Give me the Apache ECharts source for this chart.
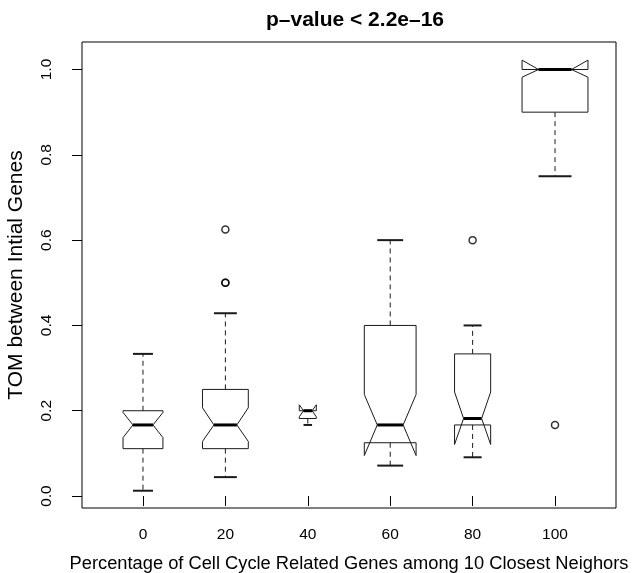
<!DOCTYPE html>
<html>
<head>
<meta charset="utf-8">
<script src="https://cdn.jsdelivr.net/npm/echarts@6/dist/echarts.min.js"></script>
<style>
  html, body { margin: 0; padding: 0; background: #fff; }
  #chart { width: 644px; height: 573px; }
</style>
</head>
<body>
<div id="chart"></div>
<script>
// groups (percentage of cell cycle genes among 10 closest neighbours)
var categories = ['0', '20', '40', '60', '80', '100'];

// five-number summaries
var lowerWhisker = [0.0125, 0.0444, 0.1667, 0.0714, 0.0909, 0.75];
var lowerHinge   = [0.1111, 0.1111, 0.1818, 0.125, 0.1667, 0.9];
var medians      = [0.1667, 0.1667, 0.2, 0.1667, 0.1818, 1.0];
var upperHinge   = [0.2, 0.25, 0.2, 0.4, 0.3333, 1.0];
var upperWhisker = [0.3333, 0.4286, 0.2, 0.6, 0.4, 1.0];

// notch limits
var notchLow  = [0.137, 0.128, 0.186, 0.095, 0.121, 0.982];
var notchHigh = [0.196, 0.207, 0.214, 0.238, 0.244, 1.022];

// group sizes (box widths are proportional to sqrt(n))
var groupN = [22, 29, 4, 37, 18, 60];

// outliers: group index + value
var outlierGroup = [1, 1, 1, 4, 5];
var outlierValue = [0.5, 0.5, 0.625, 0.6, 0.1667];

var yTicks = [0, 0.2, 0.4, 0.6, 0.8, 1.0];
var xTicks = [1, 2, 3, 4, 5, 6];

var maxN = Math.max.apply(null, groupN);
var boxData = categories.map(function (c, i) {
    return [i + 1, lowerWhisker[i], lowerHinge[i], notchLow[i], medians[i],
        notchHigh[i], upperHinge[i], upperWhisker[i], groupN[i]];
});
var outData = outlierGroup.map(function (g, i) {
    return [g + 1, outlierValue[i]];
});

var FONT = '"Liberation Sans", Arial, Helvetica, sans-serif';

function renderBox(params, api) {
    var x = api.value(0);
    var unit = api.size([1, 0])[0];
    var w = 0.4 * Math.sqrt(api.value(8) / maxN) * unit;   // half width in px
    var cx = api.coord([x, 0])[0];
    function py(k) { return api.coord([x, api.value(k)])[1]; }
    var yLo = py(1), yQ1 = py(2), yN1 = py(3), yMed = py(4), yN2 = py(5), yQ3 = py(6), yHi = py(7);

    var pts = [
        [cx - w, yQ1], [cx + w, yQ1], [cx + w, yN1], [cx + w * 0.5, yMed], [cx + w, yN2],
        [cx + w, yQ3], [cx - w, yQ3], [cx - w, yN2], [cx - w * 0.5, yMed], [cx - w, yN1]
    ];
    var ink = '#1a1a1a';
    return {
        type: 'group',
        children: [
            { type: 'line', shape: { x1: cx, y1: yQ1, x2: cx, y2: yLo },
              style: { stroke: ink, lineWidth: 1, lineDash: [5, 4] } },
            { type: 'line', shape: { x1: cx, y1: yQ3, x2: cx, y2: yHi },
              style: { stroke: ink, lineWidth: 1, lineDash: [5, 4] } },
            { type: 'line', shape: { x1: cx - w / 2, y1: yLo, x2: cx + w / 2, y2: yLo },
              style: { stroke: ink, lineWidth: 2 } },
            { type: 'line', shape: { x1: cx - w / 2, y1: yHi, x2: cx + w / 2, y2: yHi },
              style: { stroke: ink, lineWidth: 2 } },
            { type: 'polygon', shape: { points: pts },
              style: { fill: 'none', stroke: ink, lineWidth: 1 } },
            { type: 'line', shape: { x1: cx - w / 2, y1: yMed, x2: cx + w / 2, y2: yMed },
              style: { stroke: '#000', lineWidth: 3 } }
        ]
    };
}

var chart = echarts.init(document.getElementById('chart'), null, { renderer: 'canvas' });

chart.setOption({
    animation: false,
    backgroundColor: '#fff',
    textStyle: { fontFamily: FONT },
    title: {
        text: 'p\u2013value < 2.2e\u201316',
        left: 350,
        top: 5,
        textAlign: 'center',
        textStyle: { fontFamily: FONT, fontSize: 21, fontWeight: 'bold', color: '#000' }
    },
    grid: {
        left: 82, top: 42, width: 534, height: 466,
        outerBoundsMode: 'none',
        containLabel: false,
        show: true, borderColor: '#000', borderWidth: 1, backgroundColor: 'transparent'
    },
    xAxis: {
        type: 'value',
        min: 0.26, max: 6.74,
        name: 'Percentage of Cell Cycle Related Genes among 10 Closest Neighors',
        nameLocation: 'middle',
        nameGap: 47,
        nameTextStyle: { fontFamily: FONT, fontSize: 18.3, color: '#000' },
        axisLine: { show: false },
        splitLine: { show: false },
        axisTick: { show: true, inside: false, length: 10, customValues: xTicks,
            lineStyle: { color: '#000', width: 1 } },
        axisLabel: {
            customValues: xTicks, margin: 19, fontSize: 15.5, color: '#000', fontFamily: FONT,
            formatter: function (v) { return categories[Math.round(v) - 1]; }
        }
    },
    yAxis: {
        type: 'value',
        min: -0.028, max: 1.0645,
        name: 'TOM between Intial Genes',
        nameLocation: 'middle',
        nameGap: 55,
        nameTextStyle: { fontFamily: FONT, fontSize: 21, color: '#000' },
        axisLine: { show: false },
        splitLine: { show: false },
        axisTick: { show: true, inside: false, length: 10, customValues: yTicks,
            lineStyle: { color: '#000', width: 1 } },
        axisLabel: {
            customValues: yTicks, rotate: 90, margin: 27, fontSize: 15.5, color: '#000', fontFamily: FONT,
            formatter: function (v) { return v.toFixed(1); }
        }
    },
    series: [
        {
            type: 'custom',
            renderItem: renderBox,
            encode: { x: 0, y: [1, 2, 3, 4, 5, 6, 7] },
            data: boxData,
            clip: false,
            z: 2
        },
        {
            type: 'scatter',
            data: outData,
            symbol: 'circle',
            symbolSize: 7,
            itemStyle: { color: 'transparent', borderColor: '#000', borderWidth: 1.5 },
            z: 3
        }
    ]
});
</script>
</body>
</html>
